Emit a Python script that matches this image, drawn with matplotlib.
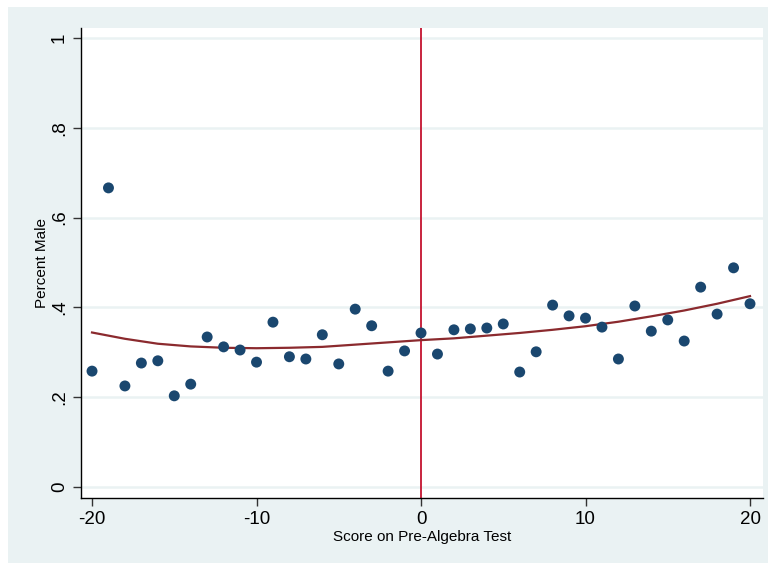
import matplotlib
matplotlib.use("Agg")
import matplotlib.pyplot as plt
from matplotlib.patches import Rectangle

plt.rcParams['font.family'] = ['Liberation Sans', 'DejaVu Sans']

# binned share of male students by score (relative to cutoff)
score = list(range(-20, 21))
pct_male = [0.258, 0.666, 0.225, 0.276, 0.281, 0.203, 0.229, 0.334, 0.312, 0.305,
            0.278, 0.367, 0.290, 0.285, 0.339, 0.274, 0.396, 0.359, 0.258, 0.303,
            0.343, 0.296, 0.350, 0.352, 0.354, 0.363, 0.256, 0.301, 0.405, 0.381,
            0.376, 0.356, 0.285, 0.403, 0.347, 0.372, 0.325, 0.445, 0.385, 0.488,
            0.408]

# fitted curve
fit_x = list(range(-20, 21, 2))
fit_y = [0.344, 0.330, 0.319, 0.313, 0.310, 0.309, 0.310, 0.312, 0.317, 0.322,
         0.327, 0.331, 0.337, 0.343, 0.350, 0.358, 0.368, 0.380, 0.393, 0.408,
         0.425]

yticks = [0, 0.2, 0.4, 0.6, 0.8, 1]
ytick_labels = ['0', '.2', '.4', '.6', '.8', '1']
xticks = [-20, -10, 0, 10, 20]

bg = '#eaf2f3'
navy = '#1a476f'

fig = plt.figure(figsize=(7.68, 5.65), dpi=100)
fig.patch.set_facecolor('white')
fig.patches.append(Rectangle((8 / 768, 2 / 565), 1, 556 / 565,
                             transform=fig.transFigure, facecolor=bg,
                             edgecolor='none', zorder=-10))

ax = fig.add_axes([81 / 768, 67 / 565, 682 / 768, 470 / 565])
ax.set_facecolor('white')

for yv in yticks:
    ax.axhline(yv, color=bg, lw=1.8, zorder=0)

ax.axvline(0, color='#c4122f', lw=1.3, zorder=1)
ax.plot(fit_x, fit_y, color='#8b2a2e', lw=1.6, zorder=2)
ax.scatter(score, pct_male, s=62, color=navy, edgecolors='none', zorder=3)

ax.set_xlim(-20.67, 20.79)
ax.set_ylim(-0.0245, 1.022)

ax.set_yticks(yticks)
ax.set_yticklabels(ytick_labels, rotation=90, va='center', fontsize=13.5)
ax.set_xticks(xticks)
ax.set_xticklabels([str(v) for v in xticks], fontsize=13.5)
ax.tick_params(direction='out', length=5.5, width=1, pad=4, color='#333333')

for side in ['top', 'right']:
    ax.spines[side].set_visible(False)
for side in ['left', 'bottom']:
    ax.spines[side].set_color('black')
    ax.spines[side].set_linewidth(1)

ax.set_xlabel('Score on Pre-Algebra Test', fontsize=11, labelpad=1)
ax.set_ylabel('Percent Male', fontsize=11, labelpad=1)

fig.savefig('out.png', dpi=100, facecolor=fig.get_facecolor())
